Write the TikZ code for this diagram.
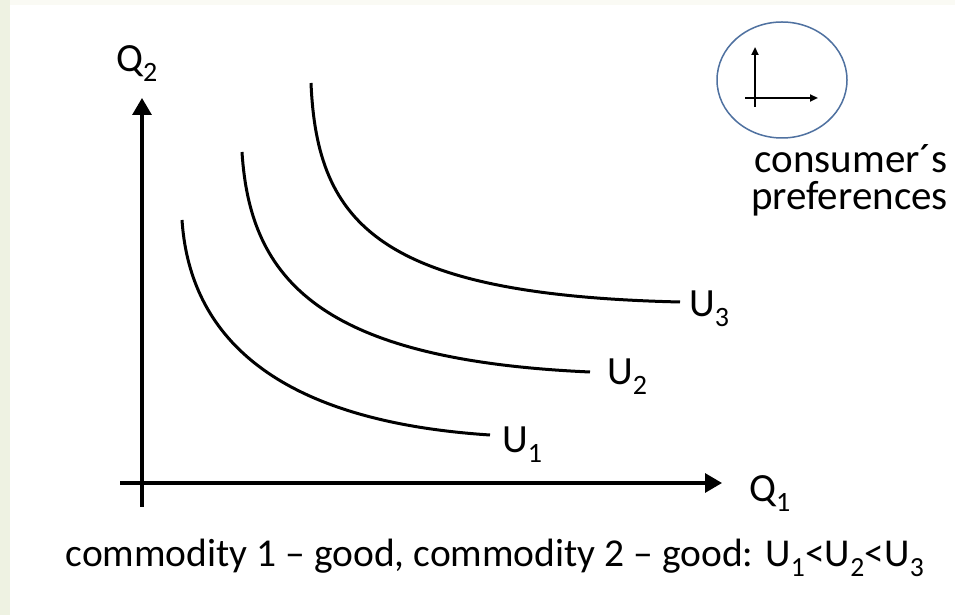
\documentclass[tikz,border=0pt]{standalone}
\usepackage{fontspec}
\setmainfont{Carlito}
\usepackage{tikz}
\usetikzlibrary{arrows.meta,positioning,calc}
\usepackage{xcolor}
\definecolor{slidebg}{RGB}{250,250,244}
\definecolor{slideedge}{RGB}{238,242,226}
\definecolor{prefblue}{RGB}{79,113,160}

\begin{document}
\begin{tikzpicture}[x=10pt,y=10pt,>=Stealth,
    axis/.style={line width=3.2pt,-{Triangle[length=17pt,width=19pt]}},
    curve/.style={line width=3pt},
    lbl/.style={font=\fontsize{40}{46}\selectfont,inner sep=0pt}]
    % slide background
    \fill[slidebg] (0,0) rectangle (95.5,61.5);
    \fill[slideedge] (0,0) rectangle (1.0,61.5);
    \fill[white] (1.0,0) rectangle (95.5,61.0);
    \useasboundingbox (0,0) rectangle (95.5,61.5);

    % axes
    \coordinate (ybot) at (14.2,10.8);
    \coordinate (ytop) at (14.2,51.7);
    \coordinate (xleft) at (12.0,13.2);
    \coordinate (xright) at (72.2,13.2);
    \draw[axis] (ybot) -- (ytop);
    \draw[axis] (xleft) -- (xright);
    \node[lbl,anchor=base west] (q2) at (11.6,54.3) {Q\textsubscript{2}};
    \node[lbl,anchor=base west] (q1) at (74.9,11.3) {Q\textsubscript{1}};

    % indifference curves
    \draw[curve] (18.2,39.5) .. controls (18.9,29.0) and (26,19.5) .. (49,18.0);
    \draw[curve] (24.2,46.3) .. controls (25.0,33.5) and (32,25.5) .. (59,24.3);
    \draw[curve] (31.1,53.2) .. controls (31.7,39.0) and (38,32.0) .. (68,31.3);
    \node[lbl,anchor=base west] (u1) at (50.2,16.2) {U\textsubscript{1}};
    \node[lbl,anchor=base west] (u2) at (60.7,23.0) {U\textsubscript{2}};
    \node[lbl,anchor=base west] (u3) at (68.9,29.8) {U\textsubscript{3}};

    % preferences sign
    \draw[prefblue,line width=1.5pt] (78.2,53.5) ellipse [x radius=6.5,y radius=5.8];
    \coordinate (sbot) at (75.5,50.8);
    \coordinate (stop) at (75.5,56.8);
    \coordinate (sleft) at (74.5,51.7);
    \coordinate (sright) at (81.8,51.7);
    \draw[line width=2pt,-{Triangle[length=8pt,width=7pt]}] (sbot) -- (stop);
    \draw[line width=2pt,-{Triangle[length=8pt,width=7pt]}] (sleft) -- (sright);
    \node[lbl,font=\fontsize{41}{47}\selectfont,anchor=base east] (cons) at (94.8,44.2) {consumer´s};
    \node[lbl,font=\fontsize{41}{47}\selectfont,anchor=base east] (prefs) at (94.8,40.5) {preferences};

    \node[lbl,font=\fontsize{39.5}{45}\selectfont,anchor=base] (caption) at (49.5,4.8) {commodity 1 – good, commodity 2 – good: U\textsubscript{1}<U\textsubscript{2}<U\textsubscript{3}};
  \end{tikzpicture}
\end{document}
